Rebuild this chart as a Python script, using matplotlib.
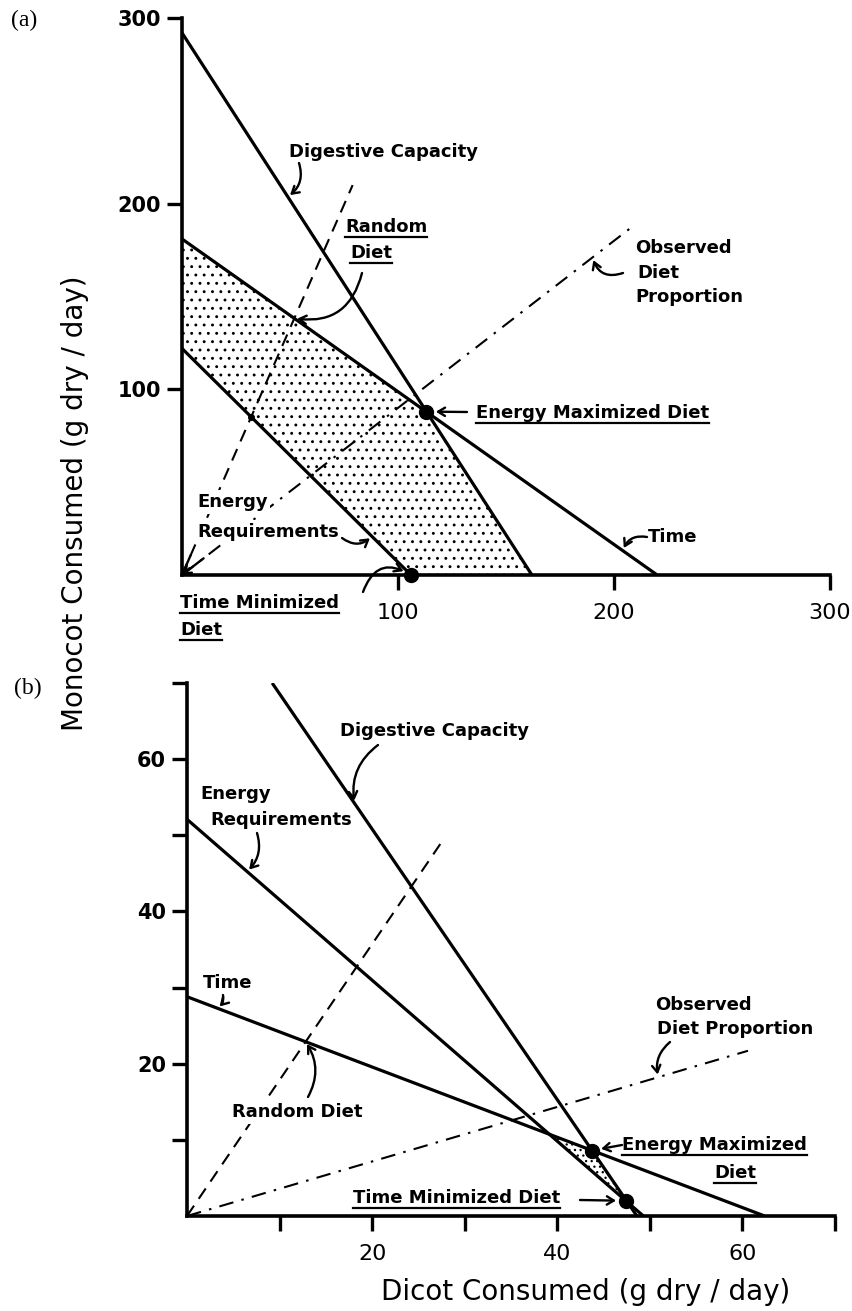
import numpy as np
import matplotlib
matplotlib.use('Agg')
import matplotlib.pyplot as plt
from matplotlib import transforms
from matplotlib.lines import Line2D

W, H = 852, 1311

# ---------- panel (a) : values ----------
a_xticks = [100, 200, 300]
a_yticks = [100, 200, 300]
a_digest_x, a_digest_y = [0, 162], [292, 0]
a_time_x, a_time_y = [0, 220], [181, 0]
a_energy_x, a_energy_y = [0, 106], [122, 0]
a_random_x, a_random_y = [0, 79], [0, 210]
a_observed_x, a_observed_y = [0, 210], [0, 189]
a_energy_max = (113, 88)
a_time_min = (106, 0)
a_random_req = (32, 85)

# ---------- panel (b) ----------
b_ticks = [10, 20, 30, 40, 50, 60, 70]
b_ticklabels = ['', '20', '', '40', '', '60', '']
b_digest_x, b_digest_y = [9.2, 48.6], [70, 0]
b_time_x, b_time_y = [0, 62.4], [28.8, 0]
b_energy_x, b_energy_y = [0, 49.3], [52.1, 0]
b_random_x, b_random_y = [0, 27.5], [0, 49.1]
b_observed_x, b_observed_y = [0, 60.6], [0, 21.7]
b_energy_max = (43.7, 8.6)
b_time_min = (47.4, 2.0)
b_overlap = (39.1, 10.7)

plt.rcParams['font.family'] = ['DejaVu Sans']
plt.rcParams['hatch.linewidth'] = 0.9

fig = plt.figure(figsize=(W / 100, H / 100), dpi=100)
PX = transforms.Affine2D().scale(1 / W, -1 / H).translate(0, 1) + fig.transFigure


def box(l, t, r, b):
    return [l / W, 1 - b / H, (r - l) / W, (b - t) / H]


ax_a = fig.add_axes(box(182, 18, 830, 575))
ax_b = fig.add_axes(box(187, 683, 835, 1216))

for ax in (ax_a, ax_b):
    for s in ('top', 'right'):
        ax.spines[s].set_visible(False)
    for s in ('left', 'bottom'):
        ax.spines[s].set_linewidth(2.6)
        ax.spines[s].set_capstyle('projecting')
    ax.tick_params(direction='out', length=11, width=2.4)
    ax.tick_params(axis='x', pad=9)
    ax.tick_params(axis='y', pad=4)

ax_a.set_xlim(0, 300)
ax_a.set_ylim(0, 300)
ax_a.set_xticks(a_xticks)
ax_a.set_yticks(a_yticks)
ax_a.set_xticklabels([str(v) for v in a_xticks], fontsize=16)
ax_a.set_yticklabels([str(v) for v in a_yticks], fontsize=15, fontweight='bold')

ax_b.set_xlim(0, 70)
ax_b.set_ylim(0, 70)
ax_b.set_xticks(b_ticks)
ax_b.set_yticks(b_ticks)
ax_b.set_xticklabels(b_ticklabels, fontsize=16)
ax_b.set_yticklabels(b_ticklabels, fontsize=15, fontweight='bold')

SOLID = dict(color='black', lw=2.3, solid_capstyle='butt', zorder=3)
DASH = dict(color='black', lw=1.5, dashes=(6, 4), zorder=2)
DASHDOT = dict(color='black', lw=1.5, dashes=(7, 4, 1.2, 4), zorder=2)

# ---- panel (a) marks ----
poly_x = [0, 0, a_energy_max[0], a_digest_x[1], a_time_min[0]]
poly_y = [a_energy_y[0], a_time_y[0], a_energy_max[1], 0, 0]
ax_a.fill(poly_x, poly_y, facecolor='white', edgecolor='black', hatch='..',
          lw=0, zorder=1)
ax_a.plot(a_digest_x, a_digest_y, **SOLID)
ax_a.plot(a_time_x, a_time_y, **SOLID)
ax_a.plot(a_energy_x, a_energy_y, **SOLID)
ax_a.plot(a_random_x, a_random_y, **DASH)
ax_a.plot(a_observed_x, a_observed_y, **DASHDOT)
ax_a.plot(*a_energy_max, 'o', color='black', ms=10, zorder=5, clip_on=False)
ax_a.plot(*a_time_min, 'o', color='black', ms=10, zorder=5, clip_on=False)
ax_a.plot(*a_random_req, 'o', color='black', ms=4, zorder=5)

# ---- panel (b) marks ----
ax_b.fill([b_overlap[0], b_energy_max[0], b_time_min[0]],
          [b_overlap[1], b_energy_max[1], b_time_min[1]],
          facecolor='white', edgecolor='black', hatch='...', lw=0, zorder=1)
ax_b.plot(b_digest_x, b_digest_y, **SOLID)
ax_b.plot(b_time_x, b_time_y, **SOLID)
ax_b.plot(b_energy_x, b_energy_y, **SOLID)
ax_b.plot(b_random_x, b_random_y, **DASH)
ax_b.plot(b_observed_x, b_observed_y, **DASHDOT)
ax_b.plot(*b_energy_max, 'o', color='black', ms=10, zorder=5)
ax_b.plot(*b_time_min, 'o', color='black', ms=10, zorder=5)

LBL = dict(fontsize=13, fontweight='bold', ha='left', va='center', zorder=6)
WHITE = dict(boxstyle='square,pad=0.15', fc='white', ec='none')
renderer = fig.canvas.get_renderer()


def label(x, y, s, under=False, **kw):
    opts = dict(LBL)
    opts.update(kw)
    t = fig.text(x, y, s, transform=PX, **opts)
    if under:
        bb = t.get_window_extent(renderer)
        inv = fig.transFigure.inverted()
        (x0, y0), (x1, _) = inv.transform([(bb.x0, bb.y0 - 1), (bb.x1, bb.y0)])
        fig.add_artist(Line2D([x0, x1], [y0, y0], transform=fig.transFigure,
                              color='black', lw=1.6))
    return t


def on(xs, ys, x):
    return (x, float(np.interp(x, xs, ys)))


ARR = dict(arrowstyle='->,head_length=0.5,head_width=0.3', color='black', lw=1.7)


def arrow(ax, start, target, rad=0.0, shrink=2, coords=PX):
    ax.annotate('', xy=target, xycoords='data', xytext=start, textcoords=coords,
                arrowprops=dict(ARR, connectionstyle=f'arc3,rad={rad}',
                                shrinkA=0, shrinkB=shrink),
                annotation_clip=False, zorder=6)


# ---- panel (a) labels ----
label(24, 20, '(a)', fontsize=17, fontweight='normal', ha='center',
      family=['Liberation Serif'])
label(289, 152, 'Digestive Capacity')
label(345, 227, 'Random', under=True)
label(350, 253, 'Diet', under=True)
label(635, 248, 'Observed')
label(637, 273, 'Diet')
label(635, 297, 'Proportion')
label(476, 413, 'Energy Maximized Diet', under=True)
label(197, 502, 'Energy', bbox=WHITE)
label(197, 532, 'Requirements', bbox=WHITE)
label(648, 537, 'Time')
label(180, 603, 'Time Minimized', under=True)
label(180, 630, 'Diet', under=True)

arrow(ax_a, (299, 163), on(a_digest_x, a_digest_y, 49), rad=-0.35)
arrow(ax_a, (362, 273), on(a_time_x, a_time_y, 52), rad=-0.45)
arrow(ax_a, (623, 273), on(a_observed_x, a_observed_y, 190), rad=-0.5)
arrow(ax_a, (467, 412), a_energy_max, shrink=7)
arrow(ax_a, (342, 538), on(a_energy_x, a_energy_y, 88), rad=0.4)
arrow(ax_a, (647, 537), on(a_time_x, a_time_y, 204), rad=0.4)
arrow(ax_a, (363, 592), a_time_min, rad=-0.6, shrink=6)
# arrowheads where the two diet lines meet the origin
arrow(ax_a, on(a_random_x, a_random_y, 4), (0, 0), shrink=0, coords='data')
arrow(ax_a, on(a_observed_x, a_observed_y, 10), (0, 0), shrink=0, coords='data')

# ---- panel (b) labels ----
label(28, 688, '(b)', fontsize=17, fontweight='normal', ha='center',
      family=['Liberation Serif'])
label(340, 731, 'Digestive Capacity')
label(200, 794, 'Energy')
label(210, 820, 'Requirements')
label(203, 983, 'Time')
label(232, 1112, 'Random Diet', under=True, bbox=WHITE)
label(655, 1005, 'Observed')
label(657, 1029, 'Diet Proportion')
label(622, 1145, 'Energy Maximized', under=True)
label(735, 1173, 'Diet', under=True, ha='center')
label(353, 1198, 'Time Minimized Diet', under=True)

arrow(ax_b, (378, 745), on(b_digest_x, b_digest_y, 18.1), rad=0.3)
arrow(ax_b, (257, 833), on(b_energy_x, b_energy_y, 6.5), rad=-0.3)
arrow(ax_b, (223, 995), on(b_time_x, b_time_y, 3.3), rad=-0.3)
arrow(ax_b, (308, 1097), on(b_time_x, b_time_y, 12.8), rad=0.3)
arrow(ax_b, (670, 1042), on(b_observed_x, b_observed_y, 50.9), rad=0.3)
arrow(ax_b, (622, 1145), b_energy_max, shrink=7)
arrow(ax_b, (580, 1200), b_time_min, shrink=7)

# ---- shared axis titles ----
fig.text(75 / W, 1 - 503 / H, 'Monocot Consumed (g dry / day)', rotation=90,
         fontsize=20, ha='center', va='center')
fig.text(586 / W, 1 - 1292 / H, 'Dicot Consumed (g dry / day)',
         fontsize=20, ha='center', va='center')

fig.savefig('out.png', dpi=100, facecolor='white')
